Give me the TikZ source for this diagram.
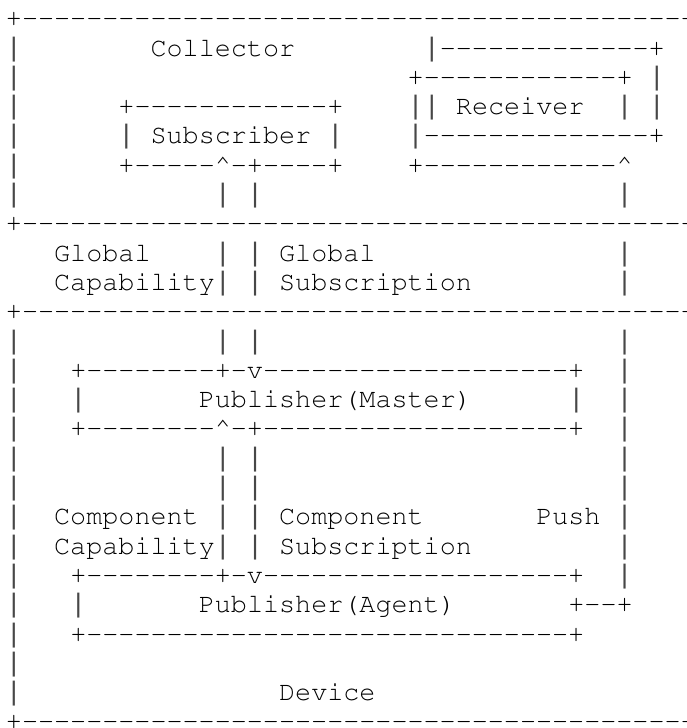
\documentclass[tikz,border=0pt]{standalone}
\usepackage[T1,TU]{fontenc}
\usepackage{fontspec}
\newfontfamily\barfont{Liberation Mono}
\tikzset{
  ascii/.style={font=\fontencoding{T1}\fontfamily{pcr}\fontseries{m}\fontshape{n}\fontsize{20.08pt}{24pt}\selectfont,
    anchor=base west, inner sep=0pt, outer sep=0pt, text=black}
}
\newcommand\seg[3]{\node[ascii] (r#1c#2) at ({5.97+16.07*#2},{26.7+29.3*#1}) {#3};}
\newcommand\crt{\textasciicircum}
\newcommand\br{{\barfont\color{black!72}|}}
\newcommand\dsh[1]{\foreach \k in {1,...,#1}{-}}
\begin{document}
\begin{tikzpicture}[x=0.75pt,y=-0.75pt]
\useasboundingbox (0,0) rectangle (686,728);
\clip (0,0) rectangle (686,728);
% row 0
\seg{0}{0}{+\dsh{45}}
% row 1
\seg{1}{0}{\br}
\seg{1}{9}{Collector}
\seg{1}{26}{\br\dsh{13}+}
% row 2
\seg{2}{0}{\br}
\seg{2}{25}{+\dsh{12}+}
\seg{2}{40}{\br}
% row 3
\seg{3}{0}{\br}
\seg{3}{7}{+\dsh{12}+}
\seg{3}{25}{\br}
\seg{3}{26}{\br}
\seg{3}{28}{Receiver}
\seg{3}{38}{\br}
\seg{3}{40}{\br}
% row 4
\seg{4}{0}{\br}
\seg{4}{7}{\br}
\seg{4}{9}{Subscriber}
\seg{4}{20}{\br}
\seg{4}{25}{\br\dsh{14}+}
% row 5
\seg{5}{0}{\br}
\seg{5}{7}{+\dsh{5}\crt{-}+\dsh{4}+}
\seg{5}{25}{+\dsh{12}\crt}
% row 6
\seg{6}{0}{\br}
\seg{6}{13}{\br}
\seg{6}{15}{\br}
\seg{6}{38}{\br}
% row 7
\seg{7}{0}{+\dsh{45}}
% row 8
\seg{8}{3}{Global}
\seg{8}{13}{\br}
\seg{8}{15}{\br}
\seg{8}{17}{Global}
\seg{8}{38}{\br}
% row 9
\seg{9}{3}{Capability}
\seg{9}{13}{\br}
\seg{9}{15}{\br}
\seg{9}{17}{Subscription}
\seg{9}{38}{\br}
% row 10
\seg{10}{0}{+\dsh{45}}
% row 11
\seg{11}{0}{\br}
\seg{11}{13}{\br}
\seg{11}{15}{\br}
\seg{11}{38}{\br}
% row 12
\seg{12}{0}{\br}
\seg{12}{4}{+\dsh{8}+{-}v\dsh{19}+}
\seg{12}{38}{\br}
% row 13
\seg{13}{0}{\br}
\seg{13}{4}{\br}
\seg{13}{12}{Publisher(Master)}
\seg{13}{35}{\br}
\seg{13}{38}{\br}
% row 14
\seg{14}{0}{\br}
\seg{14}{4}{+\dsh{8}\crt{-}+\dsh{19}+}
\seg{14}{38}{\br}
% rows 15-16
\seg{15}{0}{\br}
\seg{15}{13}{\br}
\seg{15}{15}{\br}
\seg{15}{38}{\br}
\seg{16}{0}{\br}
\seg{16}{13}{\br}
\seg{16}{15}{\br}
\seg{16}{38}{\br}
% row 17
\seg{17}{0}{\br}
\seg{17}{3}{Component}
\seg{17}{13}{\br}
\seg{17}{15}{\br}
\seg{17}{17}{Component}
\seg{17}{33}{Push}
\seg{17}{38}{\br}
% row 18
\seg{18}{0}{\br}
\seg{18}{3}{Capability}
\seg{18}{13}{\br}
\seg{18}{15}{\br}
\seg{18}{17}{Subscription}
\seg{18}{38}{\br}
% row 19
\seg{19}{0}{\br}
\seg{19}{4}{+\dsh{8}+{-}v\dsh{19}+}
\seg{19}{38}{\br}
% row 20
\seg{20}{0}{\br}
\seg{20}{4}{\br}
\seg{20}{12}{Publisher(Agent)}
\seg{20}{35}{+\dsh{2}+}
% row 21
\seg{21}{0}{\br}
\seg{21}{4}{+\dsh{30}+}
% row 22
\seg{22}{0}{\br}
% row 23
\seg{23}{0}{\br}
\seg{23}{17}{Device}
% row 24
\seg{24}{0}{+\dsh{45}}
\end{tikzpicture}
\end{document}
